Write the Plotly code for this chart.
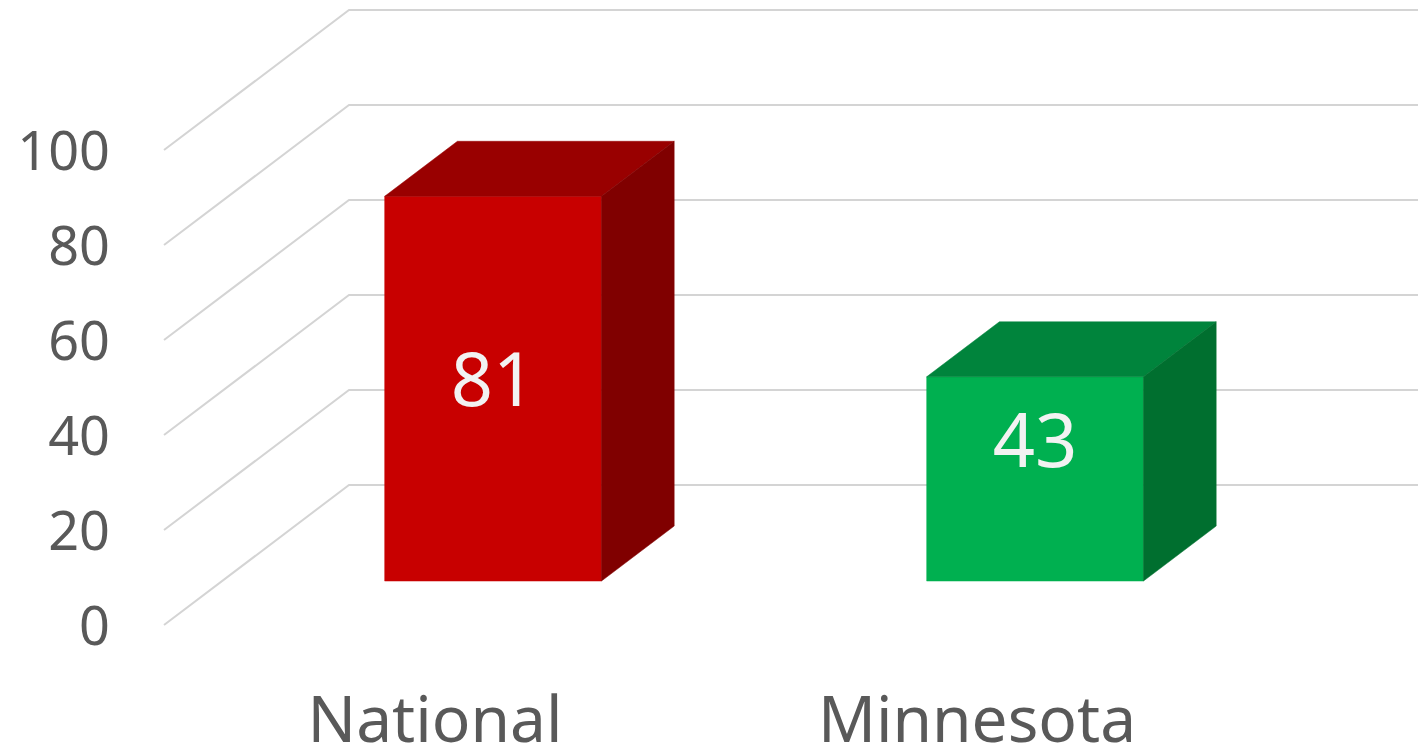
import plotly.graph_objects as go

# ---- data ----
categories = ["National", "Minnesota"]
values = [81, 43]
front_colors = ["#C80000", "#00B050"]
top_colors = ["#990000", "#00843C"]
side_colors = ["#800000", "#006F2F"]
y_ticks = [0, 20, 40, 60, 80, 100]
y_tick_labels = ["0", "20", "40", "60", "80", "100"]

# ---- geometry (pseudo-3D projection) ----
PAGE_W, PAGE_H = 1426, 748
OFF = 8          # default page body margin
W, H = PAGE_W - OFF, PAGE_H - OFF
PX = 542.0      # pixels per category
X0 = 435.0      # page pixel of first category at front plane
PY = 4.75       # pixels per value unit
Y0 = 625.0      # page pixel of value 0 at front plane
DX = 185.0 / PX  # wall depth (x, category units)
DY = 140.0 / PY  # wall depth (y, value units)
HALF = 0.2       # bar half width
DF, DB = 0.314, 0.707  # bar front/back depth fraction

xr = [(OFF - X0) / PX, (PAGE_W - X0) / PX]
yr = [-(PAGE_H - Y0) / PY, (Y0 - OFF) / PY]


def pt(x, v, d):
    return x + d * DX, v + d * DY


fig = go.Figure()

# gridlines: left wall diagonals + back wall horizontals
gx, gy = [], []
for t in y_ticks:
    a = pt(-0.5, t, 0)
    b = pt(-0.5, t, 1)
    c = pt(len(categories) - 0.5 + 0.2, t, 1)
    gx += [a[0], b[0], c[0], None]
    gy += [a[1], b[1], c[1], None]
fig.add_trace(go.Scatter(x=gx, y=gy, mode="lines",
                         line=dict(color="#D4D4D4", width=2),
                         hoverinfo="skip", showlegend=False))

# bars
for i, v in enumerate(values):
    faces = [
        ([pt(i - HALF, 0, DF), pt(i + HALF, 0, DF), pt(i + HALF, v, DF), pt(i - HALF, v, DF)], front_colors[i]),
        ([pt(i - HALF, v, DF), pt(i + HALF, v, DF), pt(i + HALF, v, DB), pt(i - HALF, v, DB)], top_colors[i]),
        ([pt(i + HALF, 0, DF), pt(i + HALF, 0, DB), pt(i + HALF, v, DB), pt(i + HALF, v, DF)], side_colors[i]),
    ]
    for poly, col in faces:
        xs = [p[0] for p in poly] + [poly[0][0]]
        ys = [p[1] for p in poly] + [poly[0][1]]
        fig.add_trace(go.Scatter(x=xs, y=ys, mode="lines", fill="toself",
                                 fillcolor=col, line=dict(color=col, width=0.5),
                                 hoverinfo="skip", showlegend=False))

# data labels
lx = [pt(i, 0, DF)[0] for i in range(len(values))]
ly = [DF * DY + 0.34 * v + 13.3 for v in values]
fig.add_trace(go.Scatter(x=lx, y=ly, mode="text", text=[str(v) for v in values],
                         textposition="middle center",
                         textfont=dict(family="Noto Sans", size=74, color="#F2F2F2"),
                         hoverinfo="skip", showlegend=False))

# category labels
fig.add_trace(go.Scatter(x=list(range(len(categories))), y=[-21.3] * len(categories),
                         mode="text", text=categories, textposition="middle center",
                         textfont=dict(family="Noto Sans", size=64, color="#595959"),
                         hoverinfo="skip", showlegend=False))

# y tick labels
fig.add_trace(go.Scatter(x=[-0.5 - 54 / PX] * len(y_ticks), y=[t - 1.3 for t in y_ticks],
                         mode="text", text=y_tick_labels, textposition="middle left",
                         textfont=dict(family="Noto Sans", size=54, color="#595959"),
                         hoverinfo="skip", showlegend=False))

fig.update_layout(
    width=W, height=H, autosize=False,
    margin=dict(l=0, r=0, t=0, b=0, pad=0),
    paper_bgcolor="white", plot_bgcolor="white",
    xaxis=dict(range=xr, visible=False, fixedrange=True),
    yaxis=dict(range=yr, visible=False, fixedrange=True),
    showlegend=False,
)

fig.write_html("out.html")
